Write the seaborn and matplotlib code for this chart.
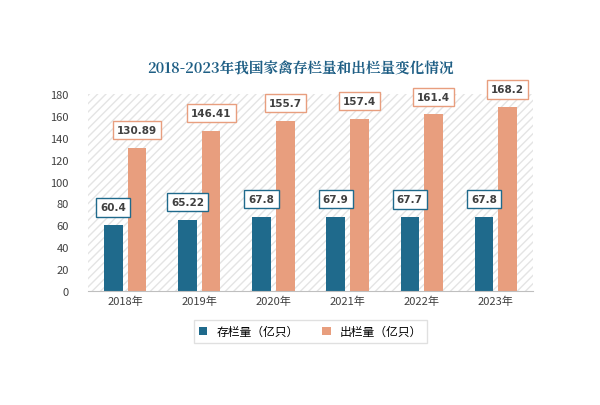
import pandas as pd
import matplotlib.pyplot as plt
import seaborn as sns
from matplotlib import font_manager

names = sorted({f.name for f in font_manager.fontManager.ttflist if "CJK" in f.name})
sans = [n for n in names if "Sans CJK SC" in n] or [n for n in names if "Sans" in n] or ["DejaVu Sans"]
serif = [n for n in names if "Serif" in n] or sans
plt.rcParams["font.family"] = [sans[0], "DejaVu Sans"]

years = ["2018年", "2019年", "2020年", "2021年", "2022年", "2023年"]
stock = [60.4, 65.22, 67.8, 67.9, 67.7, 67.8]
out = [130.89, 146.41, 155.7, 157.4, 161.4, 168.2]
series = ["存栏量（亿只）", "出栏量（亿只）"]

df = pd.DataFrame({
    "year": years * 2,
    "value": stock + out,
    "series": [series[0]] * 6 + [series[1]] * 6,
})

fig = plt.figure(figsize=(6, 4.06), dpi=100)
ax = fig.add_axes([0.147, 0.281, 0.741, 0.485])
ax.add_patch(plt.Rectangle((0, 0), 1, 1, transform=ax.transAxes, facecolor="white",
                           edgecolor="#e4e4e4", hatch="////", lw=0, zorder=0))
sns.barplot(data=df, x="year", y="value", hue="series", palette=["#1f6a8c", "#e89e7e"],
            saturation=1, width=0.64, gap=0.22, ax=ax, zorder=2)

for cont, ec in zip(ax.containers, ["#1f6a8c", "#e89e7e"]):
    labels = [f"{v:g}" for v in cont.datavalues]
    ax.bar_label(cont, labels=labels, padding=9, fontsize=7.5, fontweight="bold", color="#404040",
                 family="DejaVu Sans",
                 bbox=dict(boxstyle="square,pad=0.4", fc="white", ec=ec, lw=1))

ax.set_ylim(0, 180)
ax.set_yticks(range(0, 181, 20))
ax.set_xlabel("")
ax.set_ylabel("")
ax.tick_params(length=0, labelsize=8, colors="#404040")
ax.tick_params(axis="y", pad=14)
for s in ["top", "right", "left"]:
    ax.spines[s].set_visible(False)
ax.spines["bottom"].set_color("#bfbfbf")

ax.legend(loc="upper center", bbox_to_anchor=(0.5, -0.12), ncol=2, frameon=True, fontsize=8.5,
          handlelength=0.7, handleheight=0.7, fancybox=False, edgecolor="#d9d9d9", columnspacing=2)
fig.text(0.5, 0.82, "2018-2023年我国家禽存栏量和出栏量变化情况", ha="center", fontsize=10.5,
         fontweight="bold", color="#1f5f85", family=serif[0])

fig.savefig("out.png", dpi=100)
